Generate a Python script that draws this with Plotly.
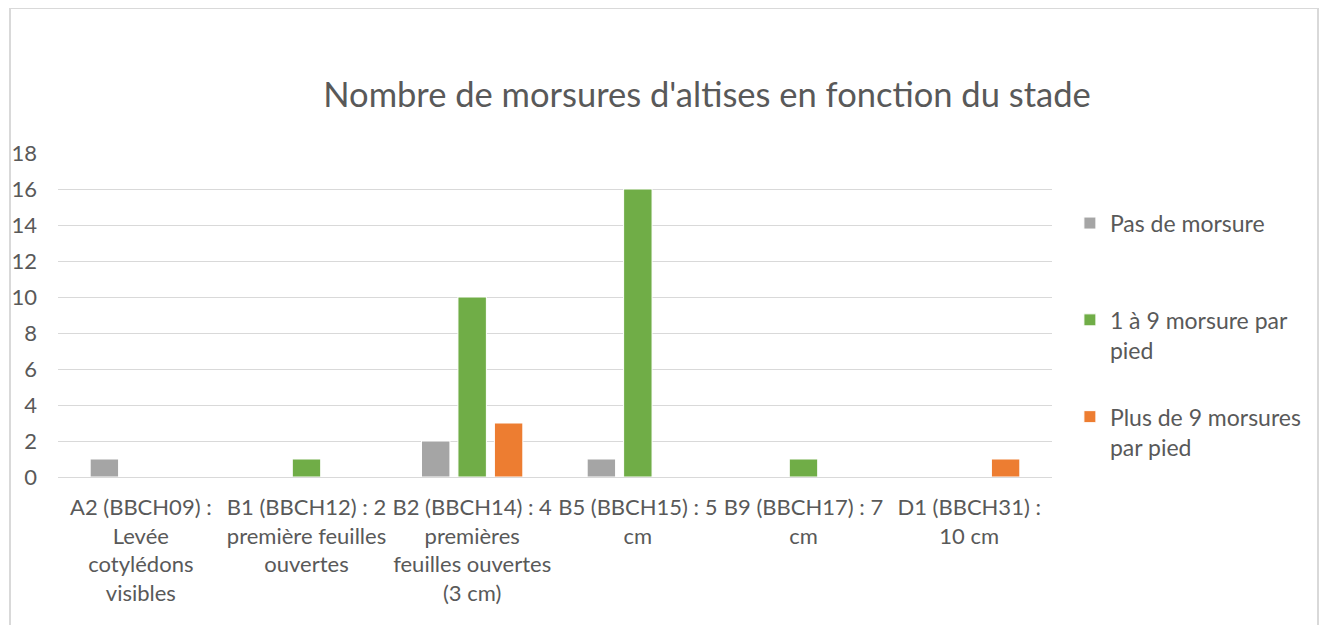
import plotly.graph_objects as go

categories = [
    "A2 (BBCH09) :<br>Levée<br>cotylédons<br>visibles",
    "B1 (BBCH12) : 2<br>première feuilles<br>ouvertes",
    "B2 (BBCH14) : 4<br>premières<br>feuilles ouvertes<br>(3 cm)",
    "B5 (BBCH15) : 5<br>cm",
    "B9 (BBCH17) : 7<br>cm",
    "D1 (BBCH31) :<br>10 cm",
]
series_names = ["Pas de morsure<br> ", "1 à 9 morsure par<br>pied", "Plus de 9 morsures<br>par pied"]
pas_de_morsure = [1, 0, 2, 1, 0, 0]
un_a_neuf = [0, 1, 10, 16, 1, 0]
plus_de_neuf = [0, 0, 3, 0, 0, 1]
colors = ["#A5A5A5", "#70AD47", "#ED7D31"]

FONT = "Lato"
TXT = "#595959"
FS = 22
LFS = 23

L, T = 50, 145
PW, PH = 994, 324

fig = go.Figure()
for i, (name, vals) in enumerate(zip(series_names, [pas_de_morsure, un_a_neuf, plus_de_neuf])):
    fig.add_trace(go.Bar(
        x=categories, y=vals, name=name, legendgroup=f"g{i}",
        marker=dict(color=colors[i], line=dict(color="white", width=1)),
    ))

fig.update_layout(
    width=1332, height=625,
    margin=dict(l=L, r=1332 - L - PW, t=T, b=625 - T - PH, autoexpand=False),
    paper_bgcolor="white", plot_bgcolor="white",
    font=dict(family=FONT, color=TXT, size=FS),
    barmode="group", bargap=0.34, bargroupgap=0.22,
    title=dict(text="Nombre de morsures d'altises en fonction du stade",
               x=699 / 1332, xanchor="center", y=1 - 87 / 625, yanchor="middle",
               font=dict(size=34.5, color=TXT, family=FONT)),
    legend=dict(x=1.018, xanchor="left", y=0.85, yanchor="top",
                traceorder="grouped", tracegroupgap=34, valign="top",
                font=dict(size=LFS, color=TXT), itemwidth=30),
    showlegend=True,
)
fig.update_yaxes(range=[0, 18], dtick=2, showgrid=True, gridcolor="#D9D9D9", gridwidth=1,
                 zeroline=True, zerolinecolor="#D9D9D9", zerolinewidth=1,
                 showline=False, ticks="", ticklabelstandoff=20, automargin=False,
                 tickfont=dict(size=FS, color=TXT))
fig.update_xaxes(showline=False, ticks="", tickangle=0, ticklabelstandoff=15, automargin=False,
                 tickfont=dict(size=FS, color=TXT))

# outer chart border (Excel chart area frame)
bx0, bx1 = (10 - 58) / PW, (1318 - 58) / PW
by0, by1 = (477 - 640) / PH, (477 - 8) / PH
for (x0, y0, x1, y1) in [(bx0, by1, bx1, by1), (bx0, by0, bx0, by1), (bx1, by0, bx1, by1)]:
    fig.add_shape(type="line", xref="paper", yref="paper", x0=x0, y0=y0, x1=x1, y1=y1,
                  line=dict(color="#D9D9D9", width=2), layer="above")

fig.write_html("out.html")
